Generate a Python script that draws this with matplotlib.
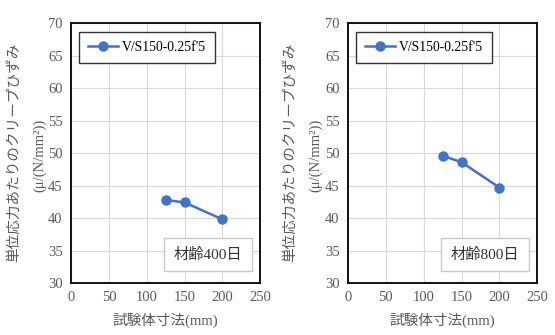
import matplotlib
matplotlib.use("Agg")
import matplotlib.pyplot as plt

plt.rcParams['font.family'] = ['Liberation Serif', 'Noto Sans CJK JP', 'DejaVu Sans']

# data
size_mm = [125, 150, 200]
creep_400 = [42.8, 42.4, 39.8]
creep_800 = [49.6, 48.6, 44.7]
series_label = "V/S150-0.25f'5"
age_labels = ["材齢400日", "材齢800日"]
xticks = [0, 50, 100, 150, 200, 250]
yticks = [30, 35, 40, 45, 50, 55, 60, 65, 70]

blue = "#4472C4"
gray_txt = "#595959"

fig = plt.figure(figsize=(5.55, 3.35), dpi=100)
ax1 = fig.add_axes([0.128, 0.155, 0.341, 0.776])
ax2 = fig.add_axes([0.627, 0.155, 0.341, 0.776])

# x pixel positions of the two y-label lines for each panel
ylab_x = [(14, 40), (290, 316)]

for ax, vals, age, lx in [(ax1, creep_400, age_labels[0], ylab_x[0]),
                          (ax2, creep_800, age_labels[1], ylab_x[1])]:
    ax.plot(size_mm, vals, color=blue, lw=1.8, marker="o", ms=6.5, label=series_label)
    ax.set_xlim(0, 250)
    ax.set_ylim(30, 70)
    ax.set_xticks(xticks)
    ax.set_yticks(yticks)
    ax.grid(True, color="#d9d9d9", lw=0.8)
    ax.set_axisbelow(True)
    ax.tick_params(length=0, labelsize=10.5, labelcolor=gray_txt, pad=6)
    for s in ax.spines.values():
        s.set_color("black")
        s.set_linewidth(1.3)
    ax.set_xlabel("試験体寸法(mm)", fontsize=10.5, color=gray_txt, labelpad=6)
    fig.text(lx[0] / 555, 0.546, "単位応力あたりのクリープひずみ", rotation=90,
             ha="center", va="center", fontsize=10.5, color=gray_txt)
    fig.text(lx[1] / 555, 0.537, "(μ/(N/mm²))", rotation=90,
             ha="center", va="center", fontsize=10.5, color=gray_txt)
    leg = ax.legend(loc="upper left", bbox_to_anchor=(0.02, 0.98), fancybox=False,
                    edgecolor="black", fontsize=9.8, handlelength=2.2,
                    handletextpad=0.3, borderpad=0.65, borderaxespad=0.3)
    leg.get_frame().set_linewidth(1.0)
    ax.text(0.725, 0.11, age, transform=ax.transAxes, ha="center", va="center",
            fontsize=11, color="#333333",
            bbox=dict(boxstyle="square,pad=0.65", fc="white", ec="#c8c8c8", lw=1.0))

fig.savefig("out.png", dpi=100)
